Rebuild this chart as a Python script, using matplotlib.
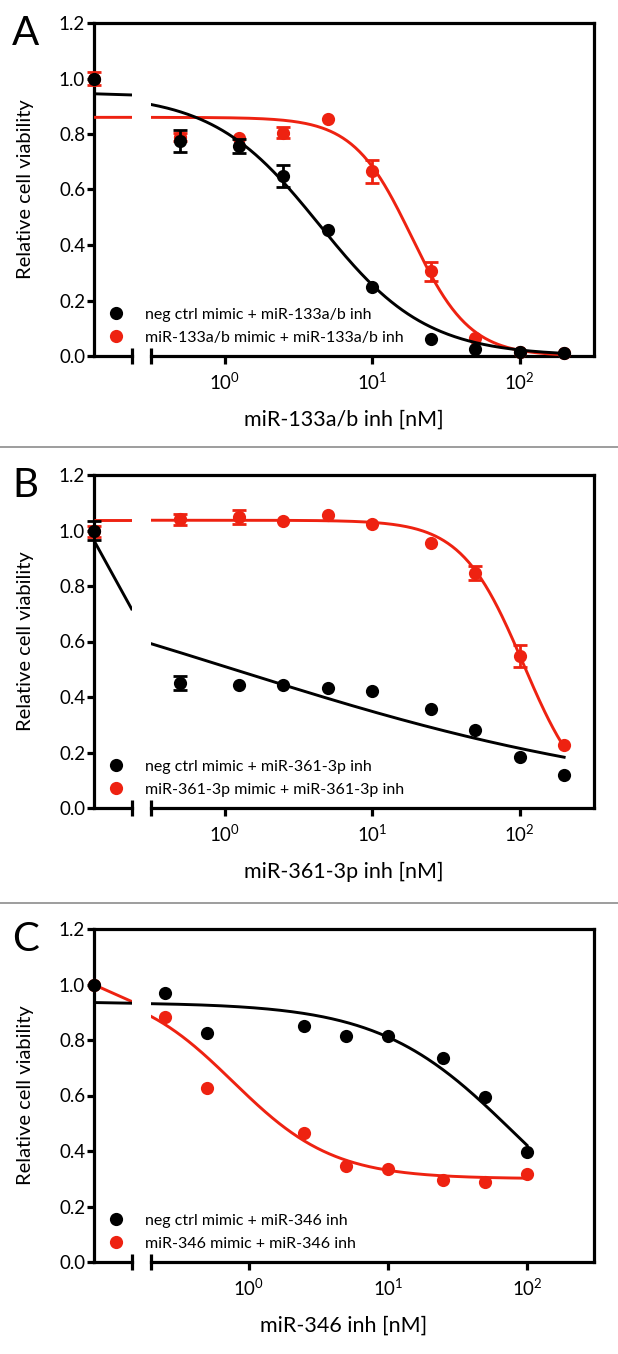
import numpy as np
import matplotlib.pyplot as plt
from matplotlib.lines import Line2D
from matplotlib.ticker import FixedLocator, NullFormatter, NullLocator, FormatStrFormatter

plt.rcParams['font.family'] = ['Lato', 'DejaVu Sans']
plt.rcParams['mathtext.default'] = 'regular'

BLACK = '#000000'
RED = '#ee2211'

# doses in nM (0 = no inhibitor, drawn on the left piece of the broken axis)
dose_ab = [0, 0.5, 1.25, 2.5, 5, 10, 25, 50, 100, 200]
dose_c = [0, 0.25, 0.5, 2.5, 5, 10, 25, 50, 100]

# panel A: miR-133a/b
a_ctrl = [1.0, 0.776, 0.758, 0.65, 0.453, 0.249, 0.06, 0.026, 0.016, 0.01]
a_ctrl_err = [0, 0.04, 0.025, 0.04, 0, 0, 0, 0, 0, 0]
a_mimic = [1.0, 0.79, 0.787, 0.805, 0.853, 0.665, 0.305, 0.065, 0.015, 0.01]
a_mimic_err = [0.025, 0.015, 0, 0.02, 0, 0.04, 0.035, 0, 0, 0]

# panel B: miR-361-3p
b_ctrl = [1.0, 0.45, 0.442, 0.444, 0.432, 0.42, 0.358, 0.28, 0.184, 0.12]
b_ctrl_err = [0.036, 0.025, 0, 0, 0, 0, 0, 0, 0, 0]
b_mimic = [0.998, 1.04, 1.05, 1.036, 1.056, 1.024, 0.954, 0.846, 0.548, 0.228]
b_mimic_err = [0.02, 0.02, 0.025, 0, 0, 0, 0, 0.025, 0.04, 0]

# panel C: miR-346
c_ctrl = [1.0, 0.968, 0.824, 0.852, 0.814, 0.815, 0.736, 0.596, 0.398]
c_mimic = [1.0, 0.884, 0.626, 0.466, 0.346, 0.336, 0.296, 0.288, 0.318]

# dose-response fits: [top, bottom, IC50, Hill]
a_ctrl_fit = [0.945, 0.0, 4.4, 1.2]
a_mimic_fit = [0.86, 0.0, 18.5, 2.2]
b_ctrl_fit = [1.0, 0.0, 1.15, 0.29]
b_mimic_fit = [1.037, 0.0, 106.0, 2.07]
c_ctrl_fit = [0.935, 0.0, 80.0, 0.9]
c_mimic_fit = [1.0, 0.30, 0.765, 1.2]

legend_a = ['neg ctrl mimic + miR-133a/b inh', 'miR-133a/b mimic + miR-133a/b inh']
legend_b = ['neg ctrl mimic + miR-361-3p inh', 'miR-361-3p mimic + miR-361-3p inh']
legend_c = ['neg ctrl mimic + miR-346 inh', 'miR-346 mimic + miR-346 inh']
xlabels = ['miR-133a/b inh [nM]', 'miR-361-3p inh [nM]', 'miR-346 inh [nM]']
letters = ['A', 'B', 'C']


def logistic(x, p):
    top, bottom, ic50, hill = p
    return bottom + (top - bottom) / (1 + (x / ic50) ** hill)


W, H = 618, 1354
fig = plt.figure(figsize=(W / 100, H / 100), dpi=100)


def px_axes(x0, x1, top, h):
    return fig.add_axes([x0 / W, 1 - (top + h) / H, (x1 - x0) / W, h / H])


XL, XB1, XB2, XR = 93.5, 132.3, 150.7, 593.5
PH = 333
LW = 2.3
MS = 9.5

panels = [
    dict(top=23, dose=dose_ab, left=(1e-5, 0.05), right=(10 ** -0.5, 10 ** 2.5),
         series=[(a_mimic, a_mimic_err, a_mimic_fit, RED), (a_ctrl, a_ctrl_err, a_ctrl_fit, BLACK)],
         labels=legend_a),
    dict(top=475, dose=dose_ab, left=(1e-5, 0.05), right=(10 ** -0.5, 10 ** 2.5),
         series=[(b_mimic, b_mimic_err, b_mimic_fit, RED), (b_ctrl, b_ctrl_err, b_ctrl_fit, BLACK)],
         labels=legend_b),
    dict(top=929, dose=dose_c, left=(1e-5, 0.11), right=(0.196, 301),
         series=[(c_mimic, None, c_mimic_fit, RED), (c_ctrl, None, c_ctrl_fit, BLACK)],
         labels=legend_c),
]

for i, pn in enumerate(panels):
    top = pn['top']
    frame = px_axes(XL, XR, top, PH)
    frame.set_xlim(0, 1)
    frame.set_ylim(0, 1.2)
    frame.set_xticks([])
    frame.set_yticks(np.arange(0, 1.21, 0.2))
    frame.yaxis.set_major_formatter(FormatStrFormatter('%.1f'))
    frame.spines['bottom'].set_visible(False)
    for s in ('top', 'right', 'left'):
        frame.spines[s].set_linewidth(LW)
    frame.tick_params(axis='y', direction='out', length=5, width=LW, pad=1, labelsize=13.5)

    axL = px_axes(XL, XB1, top, PH)
    axR = px_axes(XB2, XR, top, PH)
    for ax in (axL, axR):
        ax.set_xscale('log')
        ax.set_ylim(0, 1.2)
        ax.patch.set_visible(False)
        for s in ('top', 'right', 'left'):
            ax.spines[s].set_visible(False)
        ax.spines['bottom'].set_linewidth(LW)
        ax.set_yticks([])
    axL.set_xlim(pn['left'])
    axL.xaxis.set_major_locator(FixedLocator([pn['left'][1]]))
    axL.xaxis.set_major_formatter(NullFormatter())
    axL.xaxis.set_minor_locator(NullLocator())
    axL.tick_params(axis='x', direction='inout', length=11, width=LW)

    axR.set_xlim(pn['right'])
    axR.set_xticks([1, 10, 100], ['$10^0$', '$10^1$', '$10^2$'])
    axR.xaxis.set_minor_locator(FixedLocator([pn['right'][0]]))
    axR.xaxis.set_minor_formatter(NullFormatter())
    axR.tick_params(axis='x', which='major', direction='out', length=6, width=LW, pad=5, labelsize=13.5)
    axR.tick_params(axis='x', which='minor', direction='inout', length=11, width=LW)

    d = np.array(pn['dose'], float)
    zero = d == 0
    for k, (y, err, fit, color) in enumerate(pn['series']):
        y = np.array(y)
        z = 3 + 2 * k
        # left piece: the fitted curve joined straight between its two ends
        xl = np.array(pn['left'])
        axL.plot(xl, logistic(xl, fit), color=color, lw=2.1, zorder=z, solid_capstyle='butt')
        xs = np.logspace(np.log10(pn['right'][0]), np.log10(d.max()), 300)
        axR.plot(xs, logistic(xs, fit), color=color, lw=2.1, zorder=z)

        xpos = np.where(zero, pn['left'][0], d)
        if err is not None:
            e = np.array(err)
            for ax, m in ((axL, zero), (axR, ~zero)):
                m = m & (e > 0)
                if m.any():
                    ax.errorbar(xpos[m], y[m], yerr=e[m], fmt='none', ecolor=color,
                                elinewidth=2, capsize=5, capthick=2, zorder=z + 1, clip_on=False)
        axL.plot(xpos[zero], y[zero], 'o', ms=MS, color=color, mec='none', zorder=z + 1, clip_on=False)
        axR.plot(xpos[~zero], y[~zero], 'o', ms=MS, color=color, mec='none', zorder=z + 1, clip_on=False)

    handles = [Line2D([], [], marker='o', ls='none', color=BLACK, mec='none', ms=MS),
               Line2D([], [], marker='o', ls='none', color=RED, mec='none', ms=MS)]
    frame.legend(handles, pn['labels'], loc='lower left', bbox_to_anchor=(0.030, 0.034),
                 frameon=False, fontsize=11.5, handlelength=1.0, handletextpad=1.27,
                 labelspacing=0.56, borderpad=0, borderaxespad=0)

    fig.text((XL + XR) / 2 / W, 1 - (top + PH + 64) / H, xlabels[i], ha='center', va='center', fontsize=15.5)
    fig.text(25.6 / W, 1 - (top + PH / 2) / H, 'Relative cell viability', ha='center', va='center',
             rotation=90, fontsize=14.5)
    fig.text(12 / W, 1 - (top + 22) / H, letters[i], ha='left', va='baseline', fontsize=29)

for ysep in (447, 903):
    fig.add_artist(Line2D([0, 1], [1 - ysep / H] * 2, transform=fig.transFigure, color='#8c8c8c', lw=1.2))

fig.savefig('out.png', dpi=100, facecolor='white')
